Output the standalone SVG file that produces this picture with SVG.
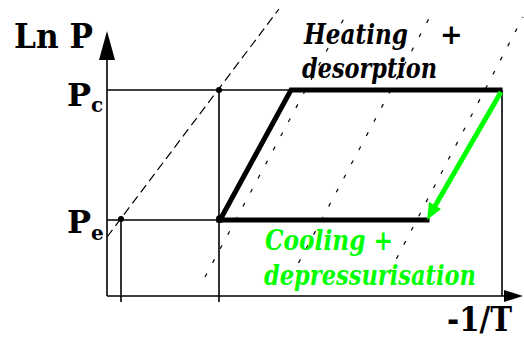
<svg xmlns="http://www.w3.org/2000/svg" width="524" height="339" viewBox="0 0 524 339">
<style>
.thin{stroke:#000;stroke-width:1.6;fill:none}
.thick{stroke:#000;stroke-width:5;fill:none;stroke-linecap:square}
.dashA{stroke:#000;stroke-width:1.2;fill:none;stroke-dasharray:9,5}
.dashB{stroke:#000;stroke-width:1.2;fill:none;stroke-dasharray:4,12}
</style>
<rect width="524" height="339" fill="#fff"/>
<g id="isosteres">
<line class="dashA" x1="107" y1="237" x2="279" y2="9"/>
<line class="dashB" x1="205" y1="277" x2="348" y2="11"/>
<line class="dashB" x1="291" y1="277" x2="433" y2="11"/>
<line class="dashB" x1="389" y1="273" x2="523" y2="17"/>
</g>
<g id="axes">
<line class="thin" x1="107" y1="296" x2="107" y2="50"/>
<path d="M107,31 L115,60 L99,60 Z" fill="#000"/>
<line class="thin" x1="107" y1="296" x2="508" y2="296"/>
<path d="M523,296 L504,290 L504,302 Z" fill="#000"/>
</g>
<g id="guides">
<line class="thin" x1="107" y1="90" x2="291" y2="90"/>
<line class="thin" x1="107" y1="220" x2="219" y2="220"/>
<line class="thin" x1="219" y1="90" x2="219" y2="302"/>
<line class="thin" x1="121" y1="219" x2="121" y2="302"/>
<line class="thin" x1="502" y1="90" x2="502" y2="296"/>
<circle cx="219" cy="90" r="3" fill="#000"/>
<circle cx="121" cy="219" r="3" fill="#000"/>
<circle cx="220" cy="219" r="4" fill="#000"/>
</g>
<g id="cycle">
<polyline class="thick" points="427,220 220,220 291,90 500,90"/>
<line x1="501" y1="92" x2="435" y2="206" stroke="#00ff00" stroke-width="5"/>
<path d="M427,220 L441,209 L429,202 Z" fill="#00ff00"/>
</g>
<g id="labels" font-family="DejaVu Serif, Liberation Serif, serif" font-weight="bold">
<text x="14" y="48" font-size="34" textLength="79" lengthAdjust="spacingAndGlyphs">Ln P</text>
<text x="67" y="106" font-size="32">P<tspan font-size="20" dy="6">c</tspan></text>
<text x="67" y="233" font-size="32">P<tspan font-size="20" dy="7">e</tspan></text>
<text x="447" y="331" font-size="34" textLength="65" lengthAdjust="spacingAndGlyphs">-1/T</text>
<g font-style="italic" font-size="27">
<text x="304" y="44" fill="#000"><tspan textLength="104" lengthAdjust="spacingAndGlyphs">Heating</tspan><tspan x="440">+</tspan></text>
<text x="302" y="78" fill="#000" textLength="135" lengthAdjust="spacingAndGlyphs">desorption</text>
<text x="265" y="250" fill="#00ff00" textLength="128" lengthAdjust="spacingAndGlyphs">Cooling +</text>
<text x="264" y="285" fill="#00ff00" textLength="212" lengthAdjust="spacingAndGlyphs">depressurisation</text>
</g>
</g>
</svg>
